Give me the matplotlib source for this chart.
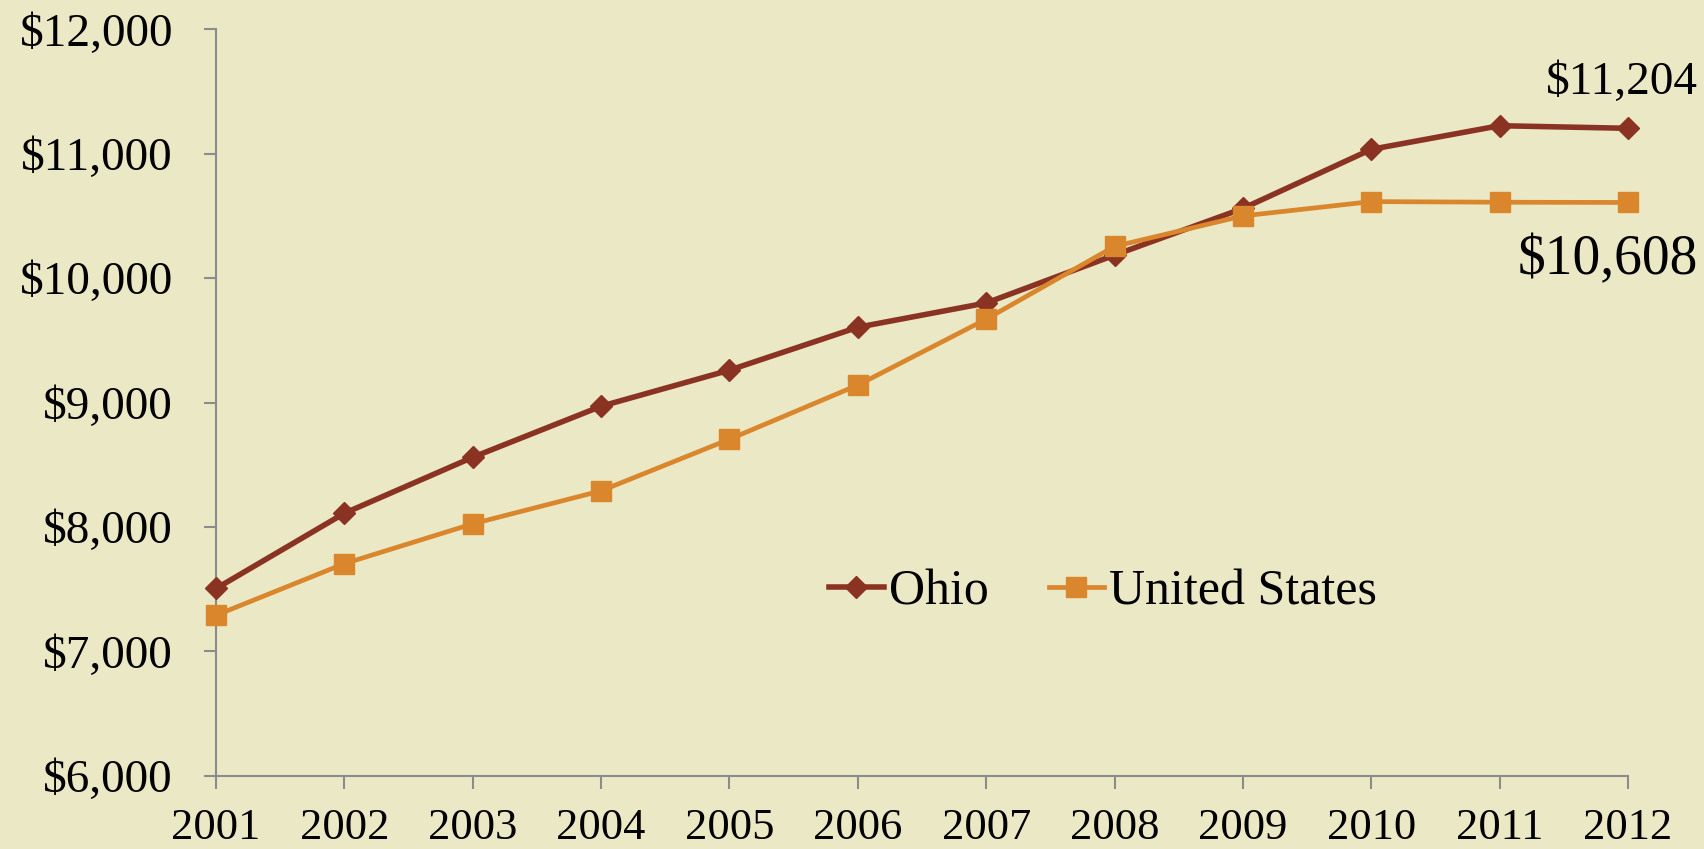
import matplotlib.pyplot as plt
from matplotlib.ticker import FuncFormatter

years = [2001, 2002, 2003, 2004, 2005, 2006, 2007, 2008, 2009, 2010, 2011, 2012]
ohio = [7505, 8110, 8560, 8970, 9260, 9605, 9800, 10185, 10560, 11035, 11225, 11204]
us = [7290, 7705, 8025, 8290, 8705, 9140, 9670, 10255, 10500, 10615, 10610, 10608]

BG = '#ebe8c6'
OHIO_C = '#8b3323'
US_C = '#d9862c'
AXIS_C = '#8c8c8c'

plt.rcParams['font.family'] = ['Liberation Serif', 'DejaVu Serif']

fig = plt.figure(figsize=(17.04, 8.49), dpi=100, facecolor=BG)
ax = fig.add_axes([0.1268, 0.0863, 0.8286, 0.8792], facecolor=BG)

ax.plot(years, ohio, color=OHIO_C, linewidth=4.0, marker='D', markersize=11, label='Ohio',
        zorder=3, clip_on=False)
ax.plot(years, us, color=US_C, linewidth=3.4, marker='s', markersize=14.5, label='United States',
        zorder=4, clip_on=False)

ax.set_xlim(2001, 2012)
ax.set_ylim(6000, 12000)
ax.set_xticks(years)
ax.set_yticks(range(6000, 12001, 1000))
ax.yaxis.set_major_formatter(FuncFormatter(lambda v, p: f'${v:,.0f}'))

for s in ['top', 'right']:
    ax.spines[s].set_visible(False)
for s in ['left', 'bottom']:
    ax.spines[s].set_color(AXIS_C)
    ax.spines[s].set_linewidth(1.5)
ax.tick_params(axis='y', direction='out', length=9, width=1.5, color=AXIS_C, labelsize=34, pad=22)
ax.tick_params(axis='x', direction='out', length=9, width=1.5, color=AXIS_C, labelsize=32, pad=14)

ax.annotate(f'${ohio[-1]:,}', xy=(years[-1], ohio[-1]), xytext=(-6, 46), textcoords='offset pixels',
            ha='center', va='center', fontsize=34, annotation_clip=False)
ax.annotate(f'${us[-1]:,}', xy=(years[-1], us[-1]), xytext=(-20, -58), textcoords='offset pixels',
            ha='center', va='center', fontsize=40, annotation_clip=False)

ax.legend(loc='center', bbox_to_anchor=(0.628, 0.246), ncol=2, frameon=False, fontsize=36,
          handlelength=1.1, handletextpad=0.1, columnspacing=1.2)

fig.savefig('out.png', dpi=100, facecolor=BG)
